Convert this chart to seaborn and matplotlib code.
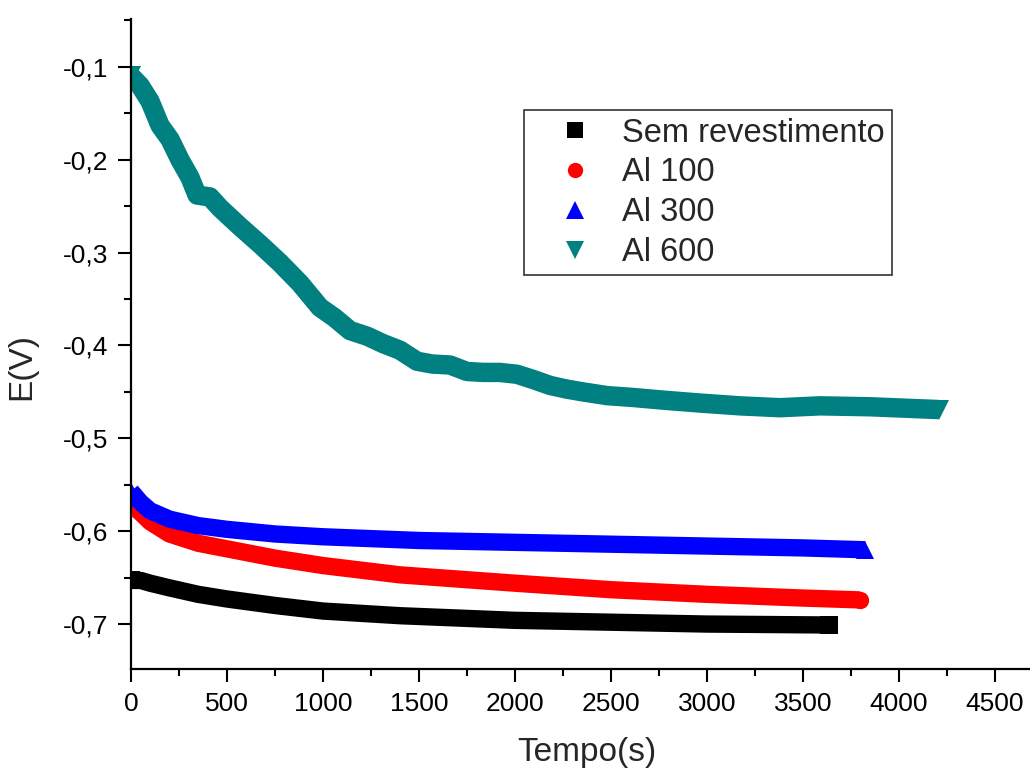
import matplotlib
matplotlib.use("Agg")
import matplotlib.pyplot as plt
from matplotlib.lines import Line2D
from matplotlib.ticker import FixedLocator, FixedFormatter, MultipleLocator
import numpy as np
import pandas as pd
import seaborn as sns

# Open-circuit potential vs. time for each coating
series_names = ["Sem revestimento", "Al 100", "Al 300", "Al 600"]

t_sem = [0, 50, 100, 200, 350, 500, 750, 1000, 1400, 2000, 2500, 3000, 3635]
E_sem = [-0.653, -0.653, -0.656, -0.661, -0.668, -0.673, -0.680, -0.686,
         -0.691, -0.696, -0.698, -0.700, -0.701]

t_al100 = [0, 50, 100, 200, 350, 500, 750, 1000, 1400, 2000, 2500, 3000, 3500, 3797]
E_al100 = [-0.571, -0.580, -0.590, -0.603, -0.613, -0.619, -0.629, -0.637,
           -0.647, -0.656, -0.663, -0.668, -0.672, -0.674]

t_al300 = [0, 25, 50, 100, 200, 350, 500, 750, 1000, 1500, 2000, 2500, 3000, 3500, 3823]
E_al300 = [-0.557, -0.563, -0.569, -0.578, -0.587, -0.594, -0.598, -0.603,
           -0.606, -0.610, -0.612, -0.614, -0.616, -0.618, -0.620]

t_al600 = [0, 47, 99, 151, 203, 255, 307, 344, 411, 464, 568, 672, 776, 880,
           984, 1060, 1141, 1230, 1313, 1400, 1490, 1570, 1661, 1750, 1833,
           1920, 2010, 2100, 2182, 2270, 2354, 2480, 2615, 2780, 2964, 3170,
           3380, 3589, 3849, 4208]
E_al600 = [-0.110, -0.120, -0.137, -0.163, -0.178, -0.200, -0.219, -0.238,
           -0.240, -0.252, -0.272, -0.291, -0.311, -0.333, -0.359, -0.370,
           -0.384, -0.390, -0.398, -0.405, -0.417, -0.420, -0.421, -0.428,
           -0.429, -0.429, -0.431, -0.437, -0.443, -0.447, -0.450, -0.454,
           -0.456, -0.459, -0.462, -0.465, -0.467, -0.465, -0.466, -0.469]

x_ticks = [0, 500, 1000, 1500, 2000, 2500, 3000, 3500, 4000, 4500]
x_tick_labels = ["0", "500", "1000", "1500", "2000", "2500", "3000", "3500", "4000", "4500"]
y_ticks = [-0.7, -0.6, -0.5, -0.4, -0.3, -0.2, -0.1]
y_tick_labels = ["-0,7", "-0,6", "-0,5", "-0,4", "-0,3", "-0,2", "-0,1"]

colors = {"Sem revestimento": "#000000", "Al 100": "#FF0000",
          "Al 300": "#0000FF", "Al 600": "#008080"}
markers = {"Sem revestimento": "s", "Al 100": "o", "Al 300": "^", "Al 600": "v"}
widths = {"Sem revestimento": 12.5, "Al 100": 12.5, "Al 300": 12.5, "Al 600": 14.0}

frames = []
for name, t, e in zip(series_names, [t_sem, t_al100, t_al300, t_al600],
                      [E_sem, E_al100, E_al300, E_al600]):
    frames.append(pd.DataFrame({"serie": name, "t": t, "E": e}))
df = pd.concat(frames, ignore_index=True)

sns.set_style("ticks")
plt.rcParams["font.family"] = ["Liberation Sans", "DejaVu Sans"]

fig = plt.figure(figsize=(10.30, 7.69), dpi=100)
ax = fig.add_axes([131 / 1030, 1 - 669 / 769, 1 - 131 / 1030, (669 - 19) / 769])

for name in series_names:
    sub = df[df["serie"] == name]
    n = len(sub)
    w = widths[name]
    sns.lineplot(data=sub, x="t", y="E", ax=ax, color=colors[name],
                 marker=markers[name], markersize=w, markeredgewidth=0,
                 markevery=[0, n - 1],
                 linewidth=w, sort=False, estimator=None, legend=False,
                 solid_capstyle="butt", solid_joinstyle="round")

ax.set_xlim(0, 4682)
ax.set_ylim(-0.7484, -0.0484)

ax.xaxis.set_major_locator(FixedLocator(x_ticks))
ax.xaxis.set_major_formatter(FixedFormatter(x_tick_labels))
ax.xaxis.set_minor_locator(MultipleLocator(250))
ax.yaxis.set_major_locator(FixedLocator(y_ticks))
ax.yaxis.set_major_formatter(FixedFormatter(y_tick_labels))
ax.yaxis.set_minor_locator(MultipleLocator(0.05))

ax.tick_params(axis="both", which="major", direction="out", length=9.5,
               width=1.5, labelsize=19, colors="black", pad=7)
ax.tick_params(axis="both", which="minor", direction="out", length=5,
               width=1.5, colors="black")

for side in ["top", "right"]:
    ax.spines[side].set_visible(False)
for side in ["left", "bottom"]:
    ax.spines[side].set_linewidth(1.6)
    ax.spines[side].set_color("black")

ax.set_xlabel("Tempo(s)", fontsize=24)
ax.set_ylabel("E(V)", fontsize=24)
ax.xaxis.set_label_coords(0.507, -0.104)
ax.yaxis.set_label_coords(-0.104, 0.466)

handles = [Line2D([], [], linestyle="none", marker=markers[n], color=colors[n],
                  markersize=ms, markeredgewidth=0)
           for n, ms in zip(series_names, [11, 11, 13, 13])]
leg = ax.legend(handles, series_names, loc="upper left",
                bbox_to_anchor=(524 / 1030, 1 - 110 / 769),
                bbox_transform=fig.transFigure, borderaxespad=0,
                fontsize=23.5, frameon=True, fancybox=False, framealpha=1,
                edgecolor="#333333", borderpad=0.23, labelspacing=0.27,
                handlelength=2.67, handletextpad=0.1)
leg.get_frame().set_linewidth(1.2)

fig.savefig("out.png", dpi=100, facecolor="white")
